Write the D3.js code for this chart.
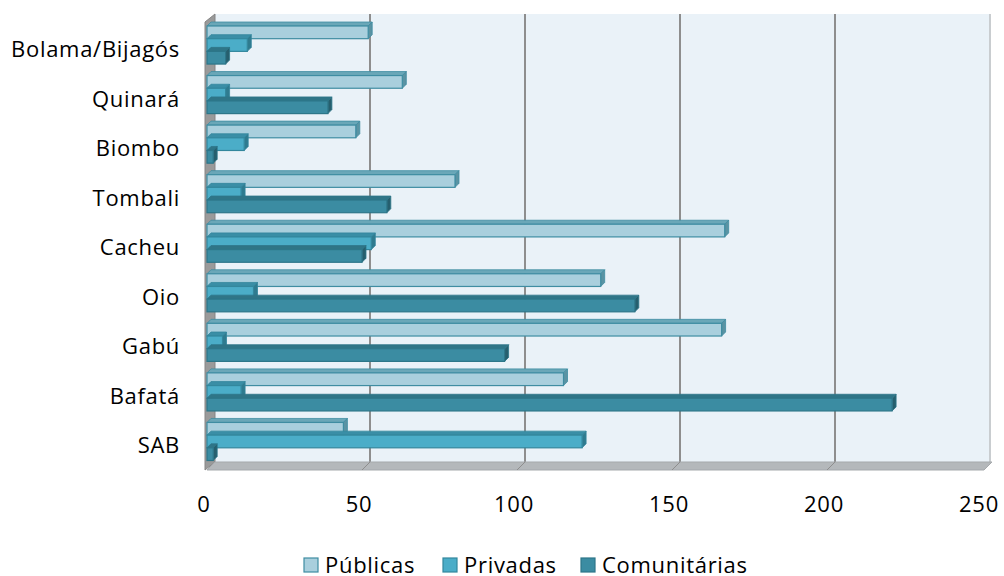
<!DOCTYPE html>
<html>
<head>
<meta charset="utf-8">
<script src="https://cdn.jsdelivr.net/npm/d3@7"></script>
<style>
  body { margin: 0; background: #fff; }
  svg { display: block; font-family: "Open Sans", "Noto Sans", sans-serif; }
</style>
</head>
<body>
<div id="chart"></div>
<script>
// dados
const categories = ["Bolama/Bijagós", "Quinará", "Biombo", "Tombali", "Cacheu", "Oio", "Gabú", "Bafatá", "SAB"];
const publicas     = [52, 63, 48, 80, 167, 127, 166, 115, 44];
const privadas     = [13, 6, 12, 11, 53, 15, 5, 11, 121];
const comunitarias = [6, 39, 2, 58, 50, 138, 96, 221, 2];
const seriesNames  = ["Públicas", "Privadas", "Comunitárias"];
const xTicks = [0, 50, 100, 150, 200, 250];

const width = 1004, height = 576;
const depth = 8;      // profundidade do piso / parede
const barDepth = 4;   // profundidade das barras
const fontSize = "22px", spacing = "0.7px";

const colors = {
  "Públicas":     { front: "#a9cfdd", top: "#6aa7b8", side: "#5a93a3", stroke: "#3f8da2" },
  "Privadas":     { front: "#4badc8", top: "#3a8ea6", side: "#2f7b8f", stroke: "#33879d" },
  "Comunitárias": { front: "#3b8ca2", top: "#2f7587", side: "#265f6e", stroke: "#2d7689" }
};

const svg = d3.select("#chart").append("svg")
  .attr("width", width)
  .attr("height", height);

const x = d3.scaleLinear().domain([0, 250]).range([207, 982]);
const y = d3.scaleBand().domain(categories).range([20, 466]);
const inner = d3.scaleBand().domain(seriesNames).range([6, y.bandwidth() - 5.5]);

const plotTop = 14, floorY = 462;

// parede de fundo
svg.append("rect")
  .attr("x", x(0) + depth).attr("y", plotTop)
  .attr("width", x(250) - x(0)).attr("height", floorY - plotTop)
  .attr("fill", "#eaf2f8");

// linhas de grade (parede de fundo)
svg.append("g").selectAll("line")
  .data(xTicks.slice(1))
  .enter().append("line")
  .attr("x1", d => x(d) + depth).attr("x2", d => x(d) + depth)
  .attr("y1", plotTop).attr("y2", floorY)
  .attr("stroke", d => d === 250 ? "#c9cdd0" : "#8e8e8e")
  .attr("stroke-width", 2);

// parede lateral esquerda
svg.append("polygon")
  .attr("points", [
    [x(0) - 2, plotTop + depth], [x(0) + depth, plotTop],
    [x(0) + depth, floorY], [x(0) - 2, floorY + depth]
  ].join(" "))
  .attr("fill", "#9a9a9a").attr("stroke", "#858585").attr("stroke-width", 1);

// piso
svg.append("polygon")
  .attr("points", [
    [x(0), floorY + depth], [x(0) + depth, floorY],
    [x(250) + depth + 2, floorY], [x(250) + 2, floorY + depth]
  ].join(" "))
  .attr("fill", "#b4b8bb").attr("stroke", "#a5a9ac").attr("stroke-width", 1);

// marcas diagonais no piso
svg.append("g").selectAll("line")
  .data(xTicks.slice(1, -1))
  .enter().append("line")
  .attr("x1", d => x(d)).attr("y1", floorY + depth)
  .attr("x2", d => x(d) + depth).attr("y2", floorY)
  .attr("stroke", "#8e8e8e").attr("stroke-width", 1);

// barras 3D
const rows = [];
categories.forEach((c, i) => {
  [publicas, privadas, comunitarias].forEach((arr, j) => {
    rows.push({ cat: c, series: seriesNames[j], value: arr[i] });
  });
});

const bars = svg.append("g").selectAll("g")
  .data(rows)
  .enter().append("g");

const h = inner.bandwidth();
const by = d => y(d.cat) + inner(d.series);
const d0 = barDepth;

// topo
bars.append("polygon")
  .attr("points", d => {
    const x0 = x(0), x1 = x(d.value), yy = by(d);
    return [[x0, yy], [x0 + d0, yy - d0], [x1 + d0, yy - d0], [x1, yy]].join(" ");
  })
  .attr("fill", d => colors[d.series].top)
  .attr("stroke", d => colors[d.series].stroke).attr("stroke-width", 0.8);

// lado
bars.append("polygon")
  .attr("points", d => {
    const x1 = x(d.value), yy = by(d);
    return [[x1, yy], [x1 + d0, yy - d0], [x1 + d0, yy + h - d0], [x1, yy + h]].join(" ");
  })
  .attr("fill", d => colors[d.series].side)
  .attr("stroke", d => colors[d.series].stroke).attr("stroke-width", 0.8);

// frente
bars.append("rect")
  .attr("x", x(0))
  .attr("y", d => by(d))
  .attr("width", d => x(d.value) - x(0))
  .attr("height", h)
  .attr("fill", d => colors[d.series].front)
  .attr("stroke", d => colors[d.series].stroke).attr("stroke-width", 1.2);

// rótulos das categorias
svg.append("g").selectAll("text")
  .data(categories)
  .enter().append("text")
  .attr("x", 180)
  .attr("y", d => y(d) + y.bandwidth() / 2 + 4.5)
  .attr("dy", "0.35em")
  .attr("text-anchor", "end")
  .attr("fill", "#000")
  .style("font-size", fontSize)
  .style("letter-spacing", spacing)
  .text(d => d);

// rótulos do eixo x
svg.append("g").selectAll("text")
  .data(xTicks)
  .enter().append("text")
  .attr("x", d => x(d) - 3)
  .attr("y", 504)
  .attr("dy", "0.35em")
  .attr("text-anchor", "middle")
  .attr("fill", "#000")
  .style("font-size", fontSize)
  .style("letter-spacing", spacing)
  .text(d => d);

// legenda
const legendX = [304, 443, 581];
const legend = svg.append("g").selectAll("g")
  .data(seriesNames)
  .enter().append("g")
  .attr("transform", (d, i) => `translate(${legendX[i]},565)`);

legend.append("rect")
  .attr("x", 0).attr("y", -7)
  .attr("width", 14).attr("height", 14)
  .attr("fill", d => colors[d].front)
  .attr("stroke", d => colors[d].stroke).attr("stroke-width", 1.2);

legend.append("text")
  .attr("x", 21).attr("y", 0)
  .attr("dy", "0.35em")
  .attr("fill", "#000")
  .style("font-size", fontSize)
  .style("letter-spacing", spacing)
  .text(d => d);
</script>
</body>
</html>
